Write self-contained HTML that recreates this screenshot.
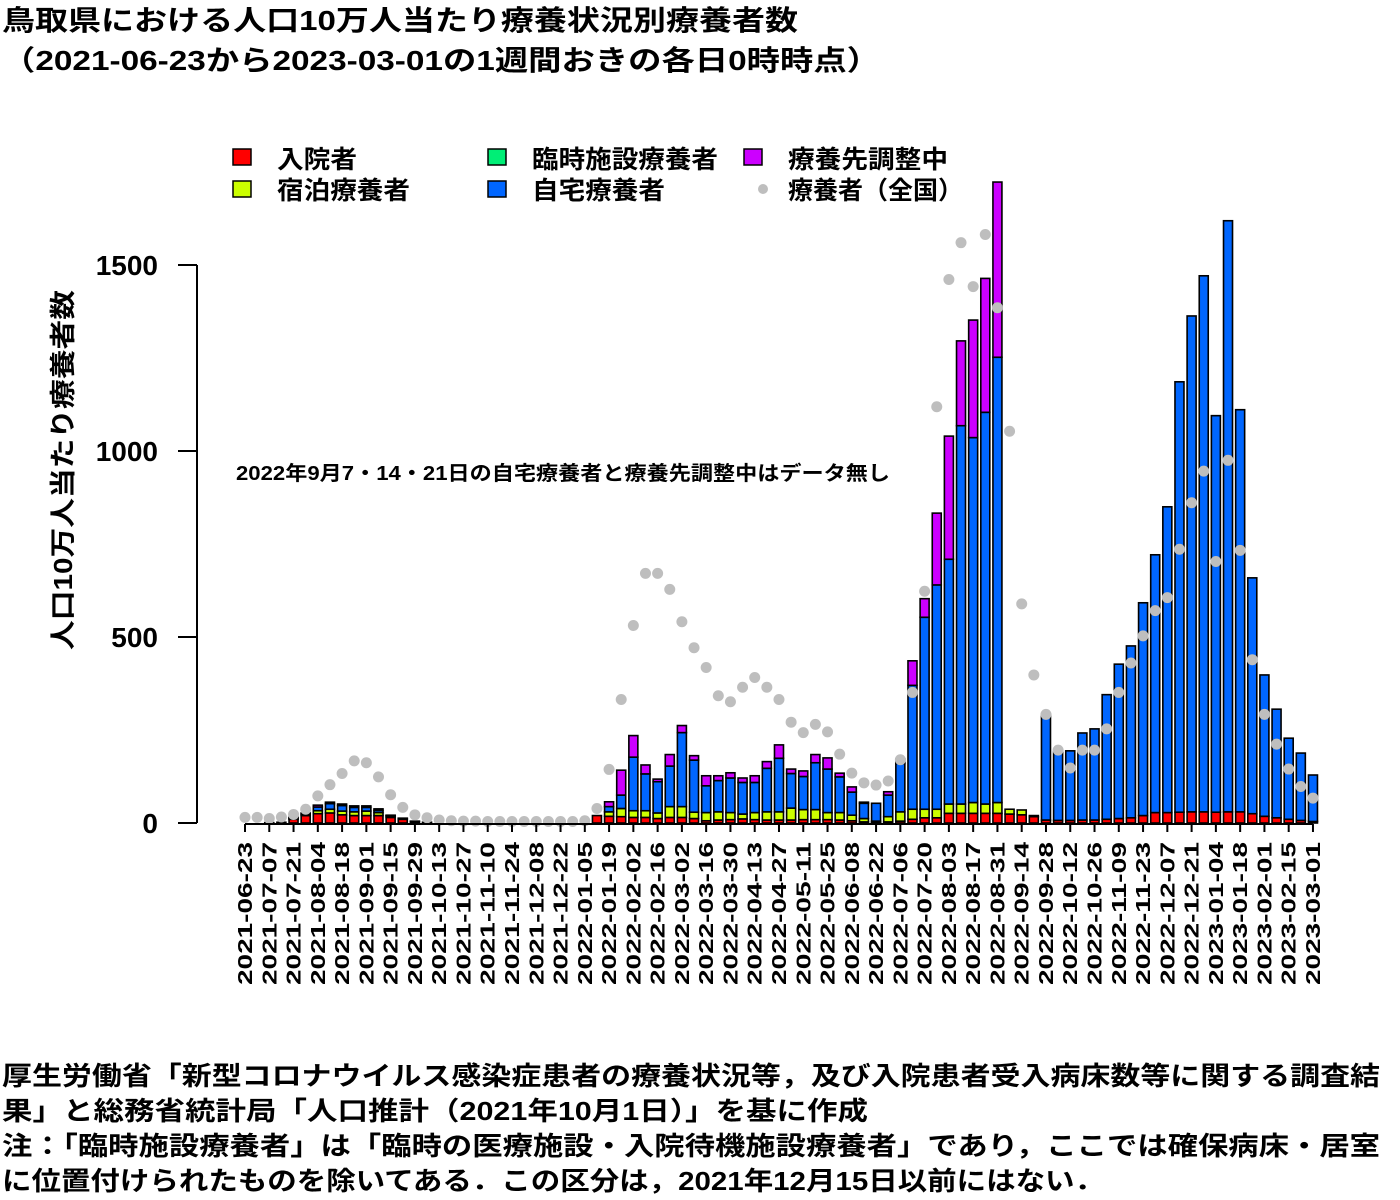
<!DOCTYPE html>
<html><head><meta charset="utf-8">
<style>
body{margin:0;background:#fff;}
svg{display:block;font-family:"Liberation Sans","Noto Sans CJK JP",sans-serif;font-weight:bold;}
</style></head>
<body>
<svg id="chart" width="1400" height="1200" viewBox="0 0 1400 1200" xmlns="http://www.w3.org/2000/svg">
<text x="2" y="30" font-size="28" textLength="796" lengthAdjust="spacingAndGlyphs">鳥取県における人口10万人当たり療養状況別療養者数</text>
<text x="2" y="70" font-size="28" textLength="878" lengthAdjust="spacingAndGlyphs">（2021-06-23から2023-03-01の1週間おきの各日0時時点）</text>
<g font-size="25">
 <rect x="233" y="149" width="18" height="16" fill="#ff0000" stroke="#000" stroke-width="1.5"/><text x="277" y="168" textLength="80" lengthAdjust="spacingAndGlyphs">入院者</text>
 <rect x="233" y="181" width="18" height="16" fill="#ccff00" stroke="#000" stroke-width="1.5"/><text x="277" y="199" textLength="133" lengthAdjust="spacingAndGlyphs">宿泊療養者</text>
 <rect x="488" y="149" width="18" height="16" fill="#00ee76" stroke="#000" stroke-width="1.5"/><text x="532" y="168" textLength="186" lengthAdjust="spacingAndGlyphs">臨時施設療養者</text>
 <rect x="488" y="181" width="18" height="16" fill="#0066ff" stroke="#000" stroke-width="1.5"/><text x="532" y="199" textLength="133" lengthAdjust="spacingAndGlyphs">自宅療養者</text>
 <rect x="744" y="149" width="18" height="16" fill="#cc00ff" stroke="#000" stroke-width="1.5"/><text x="788" y="168" textLength="160" lengthAdjust="spacingAndGlyphs">療養先調整中</text>
 <circle cx="763" cy="189" r="5" fill="#bebebe"/><text x="788" y="199" textLength="175" lengthAdjust="spacingAndGlyphs">療養者（全国）</text>
</g>
<text transform="translate(72,470) rotate(-90)" text-anchor="middle" font-size="26" textLength="360" lengthAdjust="spacingAndGlyphs">人口10万人当たり療養者数</text>
<text x="236" y="480" font-size="20" textLength="654" lengthAdjust="spacingAndGlyphs">2022年9月7・14・21日の自宅療養者と療養先調整中はデータ無し</text>
<g id="yaxis"></g>
<g id="bars"></g>
<g id="dots"></g>
<g id="xaxis"></g>
<g font-size="26">
<text x="2" y="1085" textLength="1378" lengthAdjust="spacingAndGlyphs">厚生労働省「新型コロナウイルス感染症患者の療養状況等，及び入院患者受入病床数等に関する調査結</text>
<text x="2" y="1120" textLength="866" lengthAdjust="spacingAndGlyphs">果」と総務省統計局「人口推計（2021年10月1日）」を基に作成</text>
<text x="2" y="1155" textLength="1378" lengthAdjust="spacingAndGlyphs">注：「臨時施設療養者」は「臨時の医療施設・入院待機施設療養者」であり，ここでは確保病床・居室</text>
<text x="2" y="1190" textLength="1102" lengthAdjust="spacingAndGlyphs">に位置付けられたものを除いてある．この区分は，2021年12月15日以前にはない．</text>
</g>
</svg>
<script>
const hospital=[0,0,1,2,10,20,25,27,22,20,20,20,15,10,4,2,0,0,0,0,0,0,0,0,0,0,0,0,0,
 20,18,17,15,15,12,15,15,12,6,8,9,11,9,8,8,8,9,9,9,8,6,3,2,3,5,10,14,14,26,26,26,26,26,24,22,17,
 8,7,7,8,8,10,12,14,20,28,28,29,30,30,29,30,30,25,18,14,10,7,4];
const hotel=[0,0,0,0,2,3,8,10,10,10,12,8,4,2,1,0,0,0,0,0,0,0,0,0,0,0,0,0,0,
 0,12,22,18,18,15,29,29,17,22,22,19,13,19,22,22,32,27,27,19,20,15,9,3,14,25,27,23,23,25,25,29,25,29,13,13,3,
 0,0,0,0,0,0,0,0,0,0,0,0,0,0,0,0,0,0,0,0,0,0,0];
const facility=new Array(89).fill(0);
const home=[0,0,0,0,2,2,10,15,15,12,10,6,1,1,0,0,0,0,0,0,0,0,0,0,0,0,0,0,0,
 0,14,36,144,99,84,109,199,140,72,84,93,85,81,117,144,93,89,126,117,96,62,41,48,58,130,333,516,603,658,1017,981,1053,1197,0,0,0,
 284,184,187,234,245,335,415,462,572,693,822,1157,1333,1441,1066,1589,1081,634,380,292,218,181,125];
const adjusting=[0,0,0,0,2,2,5,4,4,4,4,4,1,0,0,0,0,0,0,0,0,0,0,0,0,0,0,0,0,
 0,13,67,58,24,7,31,19,12,27,13,14,12,18,18,36,12,15,22,30,10,14,3,0,9,12,66,50,193,331,228,316,360,471,0,0,0,
 0,0,0,0,0,0,0,0,0,0,0,0,0,0,0,0,0,0,0,0,0,0,0];
const national=[15,15,12,16,23,37,73,103,133,167,162,124,76,42,22,14,8,6,5,5,4,4,4,4,4,4,4,4,6,
 39,144,332,531,671,671,628,541,471,418,342,326,365,391,365,332,271,243,265,245,185,134,108,102,113,170,351,623,1119,1461,1560,1442,1582,1385,1053,589,398,
 292,196,148,196,196,253,351,430,503,571,606,736,861,946,703,975,733,439,292,212,145,98,67];
const yTicks=[0,500,1000,1500];
const startDate=new Date(Date.UTC(2021,5,23));
const NS="http://www.w3.org/2000/svg";
const X0=245,DX=12.136,Y0=823,YS=558/1500,BW=9;
const xS=i=>X0+i*DX;
const yS=v=>Y0-v*YS;
function mk(tag,attrs,parent){const e=document.createElementNS(NS,tag);for(const k in attrs)e.setAttribute(k,attrs[k]);parent.appendChild(e);return e;}
const yax=document.getElementById('yaxis');
let l=mk('line',{x1:197,x2:197,y1:yS(0),y2:yS(1500),stroke:'#000','stroke-width':2},yax);


yTicks.forEach(t=>{
 const tk=mk('line',{x1:178,x2:197,y1:yS(t),y2:yS(t),stroke:'#000','stroke-width':2},yax);
 
 
 const tx=mk('text',{x:158,y:yS(t)+10,'text-anchor':'end','font-size':28},yax);
 tx.textContent=t;
 
 
});
const bars=document.getElementById('bars');
const series=[[hospital,'#ff0000','bar-hospital'],[hotel,'#ccff00','bar-hotel'],[facility,'#00ee76','bar-facility'],[home,'#0066ff','bar-home'],[adjusting,'#cc00ff','bar-adjusting']];
for(let i=0;i<national.length;i++){
 let cum=0;
 series.forEach(([arr,col,name])=>{
  const v=arr[i];if(!v)return;
  const r=mk('rect',{x:xS(i)-BW/2,y:yS(cum+v),width:BW,height:v*YS,fill:col,stroke:'#000','stroke-width':1.6},bars);
  
  
  cum+=v;
 });
}
const dots=document.getElementById('dots');
national.forEach((v,i)=>{
 const c=mk('circle',{cx:xS(i),cy:yS(v),r:5.5,fill:'#bebebe'},dots);
 
 
});
const xax=document.getElementById('xaxis');
const xl=mk('line',{x1:xS(0),x2:xS(88),y1:824,y2:824,stroke:'#000','stroke-width':2},xax);


for(let i=0;i<national.length;i+=2){
 const tk=mk('line',{x1:xS(i),x2:xS(i),y1:824,y2:832,stroke:'#000','stroke-width':2},xax);
 
 
 const d=new Date(startDate.getTime()+i*7*86400000);
 const s=d.toISOString().slice(0,10);
 const tx=mk('text',{transform:`translate(${xS(i)+7},842) rotate(-90)`,'text-anchor':'end','font-size':20,textLength:143,lengthAdjust:'spacingAndGlyphs'},xax);
 tx.textContent=s;
 
 
}
</script>
</body></html>
